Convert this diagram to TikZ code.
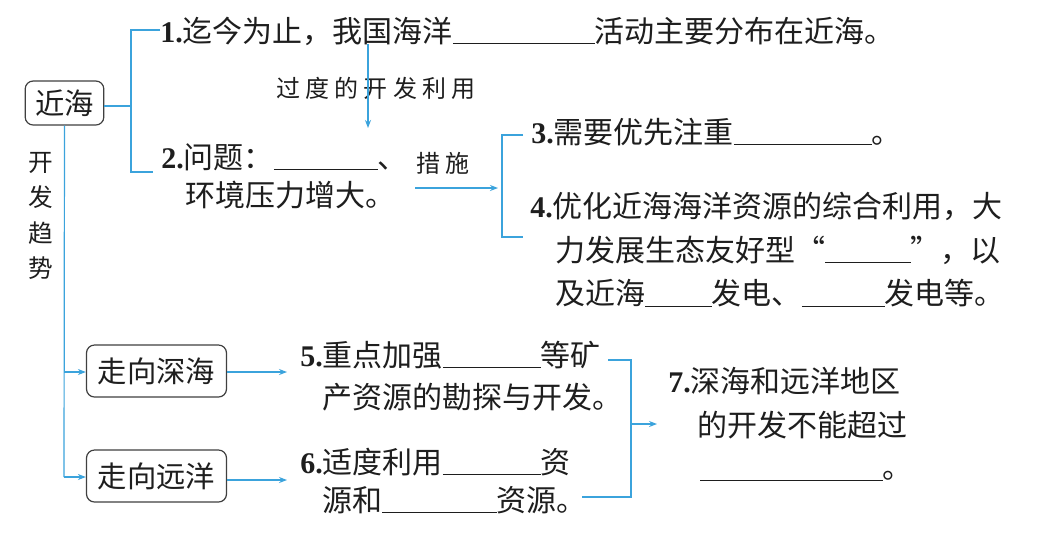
\documentclass[tikz,border=0pt]{standalone}
\usepackage{fontspec}
\setmainfont{Liberation Serif}
\newfontfamily\cjk{Noto Sans CJK SC}
\newfontfamily\cjkl[LetterSpace=22]{Noto Sans CJK SC}
\usetikzlibrary{arrows.meta}
\definecolor{lineblue}{HTML}{3BA3DC}
\definecolor{ink}{HTML}{1E1E1E}
\newcommand\blank[1]{\rule[-1.5pt]{#1}{0.7pt}}
\newcommand\nm[1]{{\rmfamily\bfseries #1.}}
\tikzset{
  txt/.style={anchor=west,inner sep=0pt,text=ink,font=\fontsize{22.5}{26}\cjk},
  small/.style={anchor=center,inner sep=0pt,text=ink,font=\fontsize{18}{22}\cjkl},
  box/.style={draw=ink!85,line width=0.9pt,rounded corners=6pt,inner sep=0pt,text=ink,font=\fontsize{22}{26}\cjk},
  conn/.style={draw=lineblue,line width=0.9pt},
  arr/.style={conn,-{Stealth[length=6pt,width=4.5pt]}}
}
\begin{document}
\begin{tikzpicture}[x=0.75pt,y=-0.75pt]
\useasboundingbox (0,0) rectangle (1037,537);
\fill[white] (0,0) rectangle (1037,537);
% boxes
\node[box,minimum width=59pt,minimum height=33pt] (jinhai) at (64.5,103) {近海};
\node[box,minimum width=105pt,minimum height=39pt] (shenhai) at (156.5,371) {走向深海};
\node[box,minimum width=105pt,minimum height=39pt] (yuanyang) at (156.5,476) {走向远洋};
% texts
\node[txt] (t1) at (160,31) {\nm{1}迄今为止，我国海洋\blank{106.5pt}活动主要分布在近海。};
\node[small] (guodu) at (376,88) {过度的开发利用};
\node[txt] (t2a) at (161,157) {\nm{2}问题：\blank{78pt}、};
\node[txt] (t2b) at (185,195) {环境压力增大。};
\node[small] (cuoshi) at (443,163) {措施};
\node[txt] (t3) at (531,132) {\nm{3}需要优先注重\blank{103.5pt}。};
\node[txt] (t4a) at (530,206) {\nm{4}优化近海海洋资源的综合利用，大};
\node[txt] (t4b) at (555,250) {力发展生态友好型\makebox[1em][r]{“}\blank{64pt}\makebox[1em][l]{”}，以};
\node[txt] (t4c) at (555,293) {及近海\blank{50pt}发电、\blank{62pt}发电等。};
\node[txt] (t5a) at (300,355) {\nm{5}重点加强\blank{73.5pt}等矿};
\node[txt] (t5b) at (322,397) {产资源的勘探与开发。};
\node[txt] (t6a) at (300,462) {\nm{6}适度利用\blank{73.5pt}资};
\node[txt] (t6b) at (322,500) {源和\blank{86pt}资源。};
\node[txt] (t7a) at (668,381) {\nm{7}深海和远洋地区};
\node[txt] (t7b) at (697,425) {的开发不能超过};
\node[txt] (t7c) at (700,476) {\blank{137pt}。};
% vertical label
\node[small,align=center,font=\fontsize{18.5}{26.5}\cjk] (qushi) at (41,216) {开\\发\\趋\\势};
% bracket 1
\coordinate (b1m) at (131,106);
\coordinate (b1t) at (131,30);
\coordinate (b1b) at (131,172);
\draw[conn] (jinhai.east |- b1m) -- (b1m);
\draw[conn] (t1.west |- b1t) -- (b1t) -- (b1b) -- (153,172);
% arrow 过度
\coordinate (a1s) at (368,44);
\draw[arr] (a1s) -- (368,128);
% arrow 措施
\coordinate (a2s) at (415,188);
\coordinate (b2m) at (498,188);
\draw[arr] (a2s) -- (b2m);
% bracket 2
\draw[conn] (523,135) -- (502,135) -- (502,237) -- (523,237);
% trunk
\coordinate (tr1) at (64,372);
\coordinate (tr2) at (64,477);
\draw[conn] (jinhai.south) -- (tr2);
\draw[arr] (tr1) -- (shenhai.west |- tr1);
\draw[arr] (tr2) -- (yuanyang.west |- tr2);
% arrows to 5 & 6
\coordinate (e5) at (287,372);
\coordinate (e6) at (287,480);
\draw[arr] (shenhai.east |- e5) -- (e5);
\draw[arr] (yuanyang.east |- e6) -- (e6);
% bracket 3
\coordinate (b3m) at (631,424);
\draw[conn] (608,360) -- (631,360) -- (631,497) -- (582,497);
\draw[arr] (b3m) -- (657,424);
\end{tikzpicture}
\end{document}
